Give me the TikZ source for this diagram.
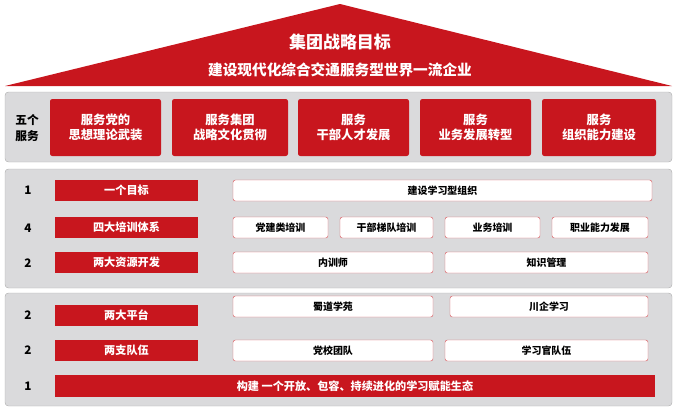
\documentclass[tikz,border=0pt]{standalone}
\usepackage{fontspec}
\setmainfont{Noto Sans CJK SC}
\usetikzlibrary{positioning}
\definecolor{hsred}{RGB}{200,22,30}
\definecolor{hsgray}{RGB}{218,218,220}
\newcommand{\cellbox}[7]{\node[#1, minimum width=(#4-#2)*0.03cm, minimum height=(#5-#3)*0.03cm] (#6) at ({(#2+#4)/2},{(#3+#5)/2}) {#7};}

\begin{document}
\begin{tikzpicture}[x=0.03cm, y=-0.03cm,
    every node/.style={align=center, inner sep=0pt},
    redbox/.style={fill=hsred, text=white, rounded corners=2pt, font=\bfseries\fontsize{10.5}{12.5}\selectfont},
    rowbox/.style={fill=hsred, text=white, font=\bfseries\fontsize{9.5}{11}\selectfont},
    whitebox/.style={draw=hsred!70, fill=white, rounded corners=2pt, font=\bfseries\fontsize{8.5}{10}\selectfont},
    panel/.style={fill=hsgray, draw=gray!60, rounded corners=3pt},
    num/.style={font=\bfseries\fontsize{10}{12}\selectfont}
]
\useasboundingbox (0,0) rectangle (677,412);

% roof
\fill[hsred] (340,4) -- (672,86) -- (5,86) -- cycle;
\node[text=white, font=\bfseries\fontsize{14.5}{16}\selectfont] (goal) at (340,42) {集团战略目标};
\node[text=white, font=\bfseries\fontsize{12.5}{14}\selectfont] (goaltext) at (340,70) {建设现代化综合交通服务型世界一流企业};

% panels
\draw[panel] (5,92) rectangle (672,162);
\draw[panel] (5,169) rectangle (672,288);
\draw[panel] (5,293) rectangle (672,406);

% five services
\node[num] (svc) at (27,128) {五个\\[2pt]服务};
\cellbox{redbox}{50}{99}{161}{156}{s1}{服务党的\\思想理论武装}
\cellbox{redbox}{172}{99}{288}{156}{s2}{服务集团\\战略文化贯彻}
\cellbox{redbox}{298}{99}{409}{156}{s3}{服务\\干部人才发展}
\cellbox{redbox}{420}{99}{531}{156}{s4}{服务\\业务发展转型}
\cellbox{redbox}{542}{99}{656}{156}{s5}{服务\\组织能力建设}

% rows
\node[num] (n1) at (28,190) {1};
\cellbox{rowbox}{55}{180}{198}{201}{r1}{一个目标}
\cellbox{whitebox}{233}{180}{652}{201}{w1}{建设学习型组织}

\node[num] (n2) at (28,228) {4};
\cellbox{rowbox}{55}{217}{198}{238}{r2}{四大培训体系}
\cellbox{whitebox}{233}{217}{328}{238}{w21}{党建类培训}
\cellbox{whitebox}{340}{217}{433}{238}{w22}{干部梯队培训}
\cellbox{whitebox}{445}{217}{540}{238}{w23}{业务培训}
\cellbox{whitebox}{552}{217}{648}{238}{w24}{职业能力发展}

\node[num] (n3) at (28,263) {2};
\cellbox{rowbox}{55}{252}{198}{273}{r3}{两大资源开发}
\cellbox{whitebox}{233}{252}{433}{273}{w31}{内训师}
\cellbox{whitebox}{445}{252}{648}{273}{w32}{知识管理}

\node[num] (n4) at (28,315) {2};
\cellbox{rowbox}{55}{305}{198}{326}{r4}{两大平台}
\cellbox{whitebox}{233}{296}{433}{317}{w41}{蜀道学苑}
\cellbox{whitebox}{450}{296}{648}{317}{w42}{川企学习}

\node[num] (n5) at (28,350) {2};
\cellbox{rowbox}{55}{340}{198}{361}{r5}{两支队伍}
\cellbox{whitebox}{233}{340}{433}{361}{w51}{党校团队}
\cellbox{whitebox}{445}{340}{648}{361}{w52}{学习官队伍}

\node[num] (n6) at (28,386) {1};
\cellbox{rowbox}{55}{375}{655}{397}{r6}{构建\ 一个开放、包容、持续进化的学习赋能生态}
\end{tikzpicture}
\end{document}
